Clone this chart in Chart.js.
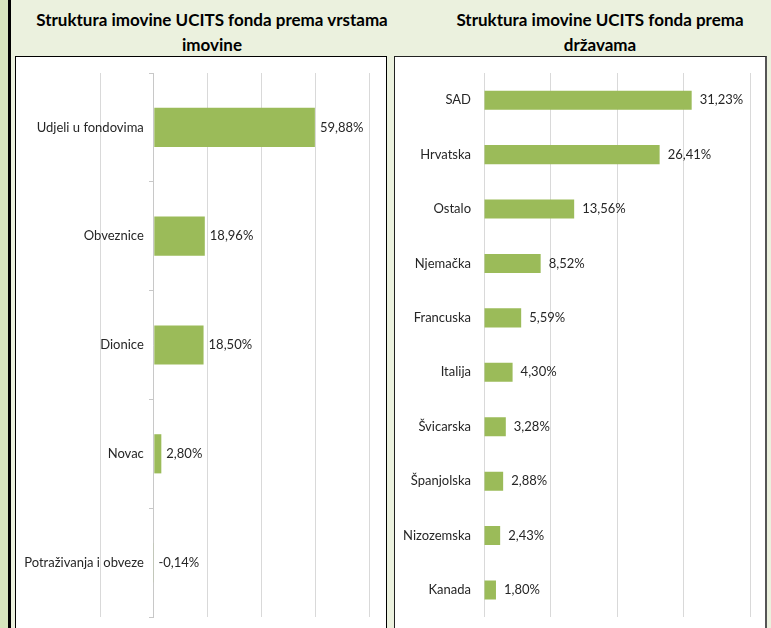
<!DOCTYPE html>
<html>
<head>
<meta charset="utf-8">
<script src="https://cdn.jsdelivr.net/npm/chart.js@4.4.0/dist/chart.umd.min.js"></script>
<style>
body{margin:0;width:771px;height:628px;overflow:hidden;background:#EBF1DE;position:relative;font-family:Lato,sans-serif}
.strip{position:absolute;left:0;top:0;width:8px;height:628px;background:#D7E4BD}
.edge{position:absolute;left:8px;top:0;width:3px;height:628px;background:#000}
.box{position:absolute;background:#fff;top:56px;height:590px;box-sizing:border-box}
#boxL{left:15px;width:372px;border:1.5px solid #000}
#boxR{left:394px;width:373px;border:1px solid #222;border-right:2px solid #555}
.title{position:absolute;top:7px;font-weight:bold;font-size:17px;line-height:25px;text-align:center;color:#000;white-space:nowrap}
canvas{position:absolute}
</style>
</head>
<body>
<div class="strip"></div>
<div class="edge"></div>
<div class="box" id="boxL"></div>
<div class="box" id="boxR"></div>
<div class="title" style="left:15px;width:394px">Struktura imovine UCITS fonda prema vrstama<br>imovine</div>
<div class="title" style="left:400px;width:400px">Struktura imovine UCITS fonda prema<br>državama</div>
<div style="position:absolute;left:17px;top:57px;width:369px;height:571px"><canvas id="chartL"></canvas></div>
<div style="position:absolute;left:396px;top:57px;width:370px;height:571px"><canvas id="chartR"></canvas></div>
<script>
var assetTypes=['Udjeli u fondovima','Obveznice','Dionice','Novac','Potraživanja i obveze'];
var assetShares=[59.88,18.96,18.50,2.80,-0.14];
var countries=['SAD','Hrvatska','Ostalo','Njemačka','Francuska','Italija','Švicarska','Španjolska','Nizozemska','Kanada'];
var countryShares=[31.23,26.41,13.56,8.52,5.59,4.30,3.28,2.88,2.43,1.80];

var barColor='#9BBB59';
var gridColor='#D9D9D9';
var textColor='#262626';

// value labels drawn at the end of each bar
var valueLabels={
	id:'valueLabels',
	afterDatasetsDraw:function(chart,args,opts){
		var ctx=chart.ctx;
		var meta=chart.getDatasetMeta(0);
		var data=chart.data.datasets[0].data;
		ctx.save();
		ctx.font='13px Lato';
		ctx.fillStyle=textColor;
		ctx.textBaseline='middle';
		ctx.textAlign='left';
		meta.data.forEach(function(bar,i){
			var x=Math.max(bar.x,bar.base)+opts.offset;
			ctx.fillText(data[i].toFixed(2).replace('.',',')+'%',x,bar.y);
		});
		ctx.restore();
	}
};

// axis placed at x=0 ignores tick padding, so move the category labels left a bit
var labelGap={
	id:'labelGap',
	beforeDraw:function(chart,args,opts){
		var items=chart.scales.y.getLabelItems(chart.chartArea);
		if(items._shifted)return;
		items._shifted=true;
		items.forEach(function(it){
			if(it.options&&it.options.translation)it.options.translation[0]-=opts.gap;
		});
	}
};

function makeChart(id,labels,values,min,max,step,pad,barPct,offset,showAxis,gap){
	return new Chart(document.getElementById(id),{
		type:'bar',
		data:{
			labels:labels,
			datasets:[{data:values,backgroundColor:barColor,borderWidth:0,barPercentage:barPct,categoryPercentage:1}]
		},
		options:{
			indexAxis:'y',
			responsive:true,
			maintainAspectRatio:false,
			animation:false,
			events:[],
			layout:{padding:pad},
			plugins:{legend:{display:false},tooltip:{enabled:false},valueLabels:{offset:offset},labelGap:{gap:gap}},
			scales:{
				x:{
					min:min,max:max,
					ticks:{display:false,stepSize:step},
					grid:{color:gridColor,drawTicks:false},
					border:{display:false}
				},
				y:{
					position:{x:0},
					grid:{display:showAxis,drawOnChartArea:false,drawTicks:showAxis,tickLength:4,color:'#C8C8C8',offset:true},
					border:{display:showAxis,color:'#C8C8C8'},
					ticks:{color:textColor,font:{family:'Lato',size:13}}
				}
			}
		},
		plugins:[valueLabels,labelGap]
	});
}

makeChart('chartL',assetTypes,assetShares,-20,80,20,{left:83,right:17,top:16,bottom:11},0.36,5,true,10);
makeChart('chartR',countries,countryShares,0,40,10,{left:88,right:16,top:16,bottom:10},0.35,8,false,13);
</script>
</body>
</html>
